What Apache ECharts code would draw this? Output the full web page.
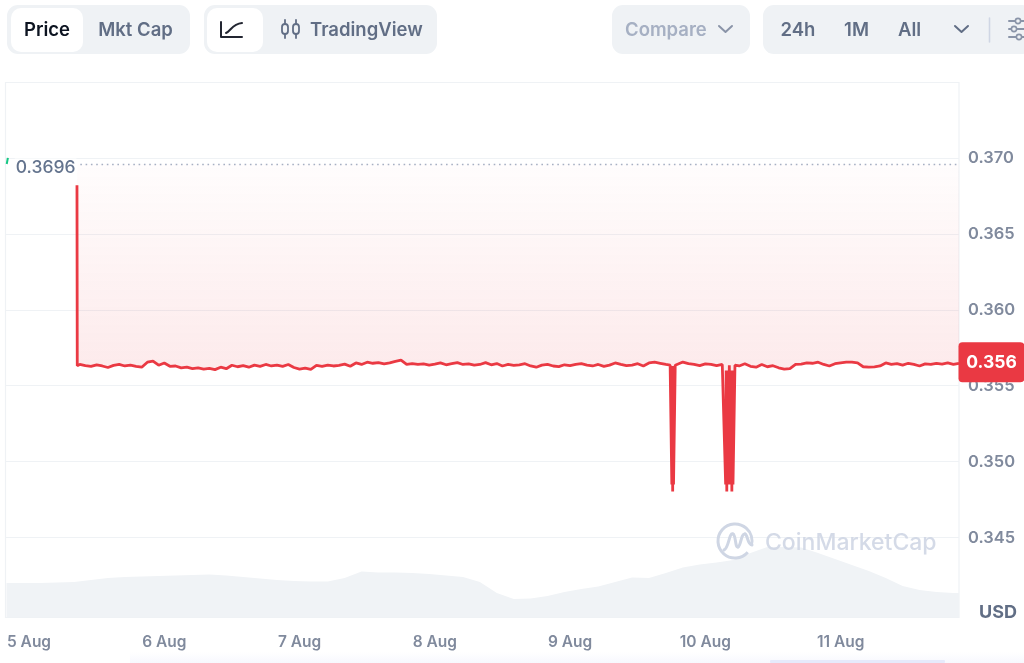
<!DOCTYPE html>
<html>
<head>
<meta charset="utf-8">
<style>html,body{margin:0;padding:0;background:#fff}#c{width:1024px;height:663px;filter:blur(0.4px)}</style>
<script src="https://cdn.jsdelivr.net/npm/echarts@6/dist/echarts.min.js"></script>
</head>
<body>
<div id="c"></div>
<script>
// Hours are counted from 5 Aug 00:00
const dayLabels = ['5 Aug','6 Aug','7 Aug','8 Aug','9 Aug','10 Aug','11 Aug'];
const dropHours = [8.51, 8.56];
const dropValues = [0.3682, 0.35632];
const startHourly = 9;
const hourlyPrice = [
 0.35640,0.35632,0.35628,0.35638,0.35630,0.35620,0.35634,0.35640,0.35630,0.35636,0.35628,0.35622,0.35655,0.35662,0.35635,0.35650,0.35628,0.35630,0.35618,
 0.35622,0.35612,0.35618,0.35610,0.35615,0.35606,0.35622,0.35612,0.35635,0.35625,0.35632,0.35622,0.35636,0.35628,0.35640,0.35630,0.35636,0.35628,0.35640,
 0.35620,0.35610,0.35616,0.35608,0.35634,0.35628,0.35636,0.35630,0.35634,0.35642,0.35628,0.35650,0.35640,0.35655,0.35648,0.35652,0.35644,0.35650,0.35660,
 0.35668,0.35640,0.35646,0.35640,0.35644,0.35636,0.35642,0.35650,0.35638,0.35645,0.35652,0.35640,0.35644,0.35636,0.35640,0.35652,0.35638,0.35646,0.35630,
 0.35640,0.35634,0.35638,0.35645,0.35630,0.35622,0.35636,0.35640,0.35630,0.35626,0.35638,0.35632,0.35640,0.35645,0.35636,0.35630,0.35640,0.35628,0.35636,
 0.35650,0.35640,0.35632,0.35636,0.35645,0.35630,0.35650,0.35655,0.35648,0.35640,0.35640,0.35630,0.35656,0.35645,0.35640,0.35632,0.35644,0.35640,0.35632,
 0.35640,0.35634,0.35640,0.35630,0.35645,0.35628,0.35622,0.35640,0.35625,0.35632,0.35618,0.35610,0.35612,0.35640,0.35642,0.35650,0.35648,0.35655,0.35640,
 0.35630,0.35645,0.35650,0.35655,0.35655,0.35650,0.35625,0.35622,0.35624,0.35630,0.35650,0.35640,0.35646,0.35636,0.35648,0.35640,0.35630,0.35644,0.35640,0.35648,0.35642,0.35650,0.35640,0.35648
];
// Dips: [hour, price]
const dipOne = [
 [113.75,0.35635],[114.05,0.3485],[114.12,0.3563],[114.2,0.34803],[114.28,0.3563],[114.35,0.3485],[114.65,0.35635]
];
const dipTwo = [
 [123.25,0.35635],[123.6,0.3485],[123.7,0.3560],[123.8,0.34803],[123.9,0.3560],[124.0,0.3485],[124.25,0.35635],
 [124.5,0.3485],[124.6,0.3560],[124.7,0.34803],[124.8,0.3560],[124.9,0.3485],[125.25,0.35635]
];
const greenHours = [-3.95, -3.75];
const greenValues = [0.3696, 0.3700];
const startPrice = 0.3696;
const volumeStart = -4;
const volumeStep = 3;
const volumeValues = [34,34,34,34.5,35,37,39,40,40.5,41,41.5,42,42.5,41.5,40,38.5,37,36,35.5,35.5,39,45.5,44.5,44.5,44,43,41.5,40,35,24,18,18.5,21,25,28,30.5,35,39.5,39,44,49.5,52.5,54.5,57,64,70,70,69.5,64,58,52,46,39,31,27,25,24,24];
const yTicks = {min:0.345,max:0.375,step:0.005};

const dayMs = 864e5;
const base = new Date(2024,7,5).getTime();
const T = h => base + h*3600e3;
const inDip = h => [dipOne,dipTwo].some(d => h>=d[0][0] && h<=d[d.length-1][0]);
let pts = dropHours.map((h,i)=>[h,dropValues[i]]);
hourlyPrice.forEach((v,i)=>{const h=startHourly+i; if(!inDip(h)) pts.push([h,v]);});
pts = pts.concat(dipOne,dipTwo).sort((a,b)=>a[0]-b[0]);
const priceData = pts.map(p=>[T(p[0]),p[1]]);
const lastPoint = priceData[priceData.length-1];
const volumeData = volumeValues.map((v,i)=>[T(volumeStart+i*volumeStep),v]);
const greenData = greenHours.map((h,i)=>[T(h),greenValues[i]]);
const xMin = T(-4.26), xMax = T(165);

const RED='#ea3943', PILL='#eff2f5', GREY='#616e85', LABEL='#808a9d';
const rect=(x,y,w,h,r,fill,extra)=>Object.assign({type:'rect',silent:true,z:1,shape:{x,y,width:w,height:h,r},style:{fill}},extra||{});
const txt=(x,y,t,font,fill,align,z)=>({type:'text',silent:true,z:z||3,style:{x,y,text:t,font,fill,textAlign:align||'left',textVerticalAlign:'middle'}});
const poly=(points,stroke,w,z)=>({type:'polyline',silent:true,z:z||3,shape:{points},style:{stroke,lineWidth:w||2,fill:null,lineCap:'round',lineJoin:'round'}});
const bez=(x1,y1,cx1,cy1,cx2,cy2,x2,y2,stroke,w,z)=>({type:'bezierCurve',silent:true,z:z||3,shape:{x1,y1,cpx1:cx1,cpy1:cy1,cpx2:cx2,cpy2:cy2,x2,y2},style:{stroke,lineWidth:w,fill:null,lineCap:'round'}});
const F='Inter, sans-serif';
const BTN='600 18.5px '+F;
const chevron=(x,y,c)=>poly([[x,y],[x+6.5,y+6],[x+13,y]],c,2);
const sliders=(x)=>[
  poly([[x,21],[1030,21]],'#8a94a8',2),poly([[x,29],[1030,29]],'#8a94a8',2),poly([[x,37],[1030,37]],'#8a94a8',2),
  {type:'circle',silent:true,z:4,shape:{cx:x+9,cy:21,r:2.6},style:{fill:PILL,stroke:'#8a94a8',lineWidth:1.6}},
  {type:'circle',silent:true,z:4,shape:{cx:x+5,cy:29,r:2.6},style:{fill:PILL,stroke:'#8a94a8',lineWidth:1.6}},
  {type:'circle',silent:true,z:4,shape:{cx:x+10,cy:37,r:2.6},style:{fill:PILL,stroke:'#8a94a8',lineWidth:1.6}}
];
const candle=(cx,c)=>[
  {type:'rect',silent:true,z:3,shape:{x:cx-3,y:24,width:6,height:10,r:3},style:{fill:null,stroke:c,lineWidth:1.8}}
];
const graphics=[
  rect(130,652,894,11,0,{type:'linear',x:0,y:0,x2:0,y2:1,colorStops:[{offset:0,color:'#ffffff'},{offset:1,color:'#f7f8fe'}]}),
  rect(770,660,175,3,1,'#e6eafb'),
  {type:'rect',silent:true,z:0,shape:{x:5.5,y:82.5,width:953.5,height:535},style:{fill:'none',stroke:'#eff2f5',lineWidth:1.2}},
  rect(7,5,183,49,11,PILL),
  rect(11,8,72,44,10,'#fff',{z:2}),
  txt(47,30,'Price',BTN,'#0d1421','center'),
  txt(135.5,30,'Mkt Cap',BTN,GREY,'center'),
  rect(204,5,233,49,11,PILL),
  rect(207,8,56,44,10,'#fff',{z:2}),
  poly([[221,22],[221,37],[242,37]],'#222531',2),
  bez(226,33,231,31,232,24,242,23,'#222531',2),
  poly([[285,20],[285,24]],GREY,1.8),poly([[285,34],[285,38]],GREY,1.8),
  poly([[296,20],[296,24]],GREY,1.8),poly([[296,34],[296,38]],GREY,1.8),
  ...candle(285,GREY),...candle(296,GREY),
  txt(310,30,'TradingView',BTN,GREY),
  rect(612,5,138,49,11,PILL),
  txt(625,30,'Compare',BTN,'#a6b0c3'),
  chevron(719,26,'#8a94a8'),
  rect(763,5,270,49,11,PILL),
  txt(798,30,'24h',BTN,GREY,'center'),
  txt(856.5,30,'1M',BTN,GREY,'center'),
  txt(909.5,30,'All',BTN,GREY,'center'),
  chevron(955,26,GREY),
  poly([[989.5,18],[989.5,42]],'#cfd6e4',1.6),
  ...sliders(1009),
  txt(1017,612.5,'USD','700 18px '+F,GREY,'right',5),
  // watermark
  {type:'arc',silent:true,z:6,shape:{cx:735,cy:541,r:17,startAngle:0.72,endAngle:0.28,clockwise:true},style:{stroke:'#cfd6e4',lineWidth:3,fill:null}},
  bez(724,550,729,548,729,532,733,534,'#cfd6e4',3,6),
  bez(733,534,736,535,735,548,738,547,'#cfd6e4',3,6),
  bez(738,547,741,546,741,533,745,534,'#cfd6e4',3,6),
  bez(745,534,748,535,747,544,752,545,'#cfd6e4',3,6),
  txt(765,543,'CoinMarketCap','500 23px '+F,'rgba(207,214,228,0.9)','left',6)
];

const chart=echarts.init(document.getElementById('c'),null,{renderer:'canvas'});
chart.setOption({
  animation:false,
  graphic:graphics,
  grid:[
    {left:5,width:954,top:82,height:455.6,containLabel:false},
    {left:5,width:954,top:535,height:82,containLabel:false}
  ],
  xAxis:[
    {type:'time',gridIndex:0,min:xMin,max:xMax,show:false},
    {type:'time',gridIndex:1,min:xMin,max:xMax,minInterval:dayMs,maxInterval:dayMs,
      axisLine:{show:false},axisTick:{show:false},splitLine:{show:false},
      axisLabel:{show:true,margin:17,showMinLabel:false,showMaxLabel:false,hideOverlap:false,color:LABEL,fontFamily:F,fontSize:15.5,fontWeight:600,
        formatter:v=>dayLabels[Math.round((v-base)/dayMs)]||''}}
  ],
  yAxis:[
    {type:'value',gridIndex:0,position:'right',min:yTicks.min,max:yTicks.max,interval:yTicks.step,
      axisLine:{show:false},axisTick:{show:false},
      splitLine:{show:true,lineStyle:{color:'#eff2f5',width:1.2}},
      axisLabel:{margin:9,showMaxLabel:false,color:LABEL,fontFamily:F,fontSize:16.5,fontWeight:600,padding:[5,0,0,0],formatter:v=>v.toFixed(3)}},
    {type:'value',gridIndex:1,min:0,max:82,show:false}
  ],
  series:[
    {type:'line',xAxisIndex:1,yAxisIndex:1,data:volumeData,symbol:'none',silent:true,z:1,
      lineStyle:{width:0},areaStyle:{color:'#f0f3f6',opacity:1}},
    {type:'line',xAxisIndex:0,yAxisIndex:0,data:greenData,symbol:'none',silent:true,z:3,
      lineStyle:{color:'#16c784',width:2}},
    {type:'line',xAxisIndex:0,yAxisIndex:0,data:priceData,symbol:'none',silent:true,z:4,clip:false,
      lineStyle:{color:RED,width:2.8,join:'bevel'},
      areaStyle:{origin:startPrice,opacity:1,color:{type:'linear',x:0,y:0,x2:0,y2:1,colorStops:[
        {offset:0,color:'rgba(234,57,67,0.01)'},{offset:0.61,color:'rgba(234,57,67,0.10)'},{offset:1,color:'rgba(234,57,67,0.10)'}]}},
      markLine:{silent:true,symbol:'none',animation:false,label:{show:false},
        lineStyle:{color:'#a6b0c3',type:[1.6,3.7],width:1.4},
        data:[[{coord:[T(9.1),startPrice]},{coord:[xMax,startPrice]}]]},
      markPoint:{silent:true,animation:false,data:[
        {coord:[T(8.51),startPrice],value:startPrice,symbol:'rect',symbolSize:1,itemStyle:{color:'transparent'},
          label:{show:true,position:'left',distance:0,offset:[0,3.5],formatter:String(startPrice),color:'#64748e',backgroundColor:'#fff',padding:[0,1],fontFamily:F,fontSize:17.5,fontWeight:500}},
        {coord:lastPoint,value:lastPoint[1],symbol:'rect',symbolSize:1,itemStyle:{color:'transparent'},
          label:{show:true,position:'inside',offset:[32.5,-1],width:66,height:40,lineHeight:41,align:'center',verticalAlign:'middle',backgroundColor:RED,borderRadius:4,
            formatter:lastPoint[1].toFixed(3),color:'#fff',fontFamily:F,fontSize:17.5,fontWeight:700}}
      ]}}
  ]
});
</script>
</body>
</html>
